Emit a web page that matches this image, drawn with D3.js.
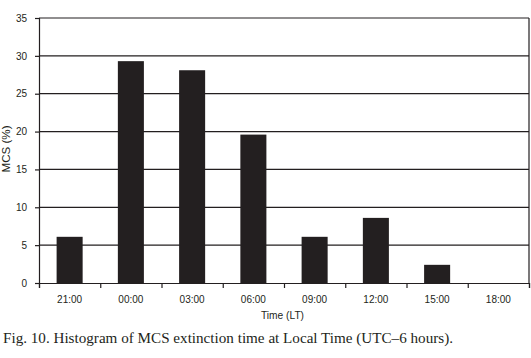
<!DOCTYPE html>
<html>
<head>
<meta charset="utf-8">
<script src="https://cdn.jsdelivr.net/npm/d3@7"></script>
<style>
  body { margin: 0; background: #fff; }
  .axis text { font-family: "Liberation Sans", Arial, sans-serif; font-size: 10px; fill: #231f20; }
  .axis path, .axis line { stroke: #231f20; }
</style>
</head>
<body>
<div id="chart"></div>
<script>
var times = ['21:00', '00:00', '03:00', '06:00', '09:00', '12:00', '15:00', '18:00'];
var mcs = [6.1, 29.3, 28.1, 19.6, 6.1, 8.6, 2.4, 0];
var y_ticks = [0, 5, 10, 15, 20, 25, 30, 35];

var margin = { top: 18, right: 2, bottom: 75, left: 39 },
    width = 531 - margin.left - margin.right,
    height = 358 - margin.top - margin.bottom;

var svg = d3.select('#chart').append('svg')
    .attr('width', 531)
    .attr('height', 358);

var g = svg.append('g')
    .attr('transform', `translate(${margin.left},${margin.top})`);

var x = d3.scaleBand()
    .domain(times)
    .range([0, width])
    .paddingInner(0.575)
    .paddingOuter(0.2875);

var y = d3.scaleLinear()
    .domain([0, 35])
    .range([height, 0]);

// gridlines
g.selectAll('.grid')
    .data(y_ticks.slice(1))
    .enter()
    .append('line')
    .attr('x1', 0)
    .attr('x2', width)
    .attr('y1', d => y(d))
    .attr('y2', d => y(d))
    .attr('stroke', '#231f20')
    .attr('stroke-width', 1.2);

// right border
g.append('line')
    .attr('x1', width).attr('x2', width)
    .attr('y1', 0).attr('y2', height)
    .attr('stroke', '#231f20')
    .attr('stroke-width', 1.2);

g.selectAll('.bar')
    .data(mcs)
    .enter()
    .append('rect')
    .attr('x', (d, i) => x(times[i]))
    .attr('y', d => y(d))
    .attr('width', x.bandwidth())
    .attr('height', d => y(0) - y(d))
    .attr('fill', '#231f20');

// x axis: ticks at category boundaries
var xb = d3.scaleLinear().domain([0, times.length]).range([0, width]);
var xAxis = g.append('g')
    .attr('class', 'axis')
    .attr('transform', `translate(0,${height})`)
    .call(d3.axisBottom(xb).ticks(times.length).tickSize(5).tickFormat(''));
xAxis.select('.domain').attr('stroke-width', 1.2);
xAxis.selectAll('line').attr('stroke-width', 1.2);

g.append('g')
    .attr('class', 'axis')
    .attr('transform', `translate(0,${height})`)
    .selectAll('text')
    .data(times)
    .enter()
    .append('text')
    .attr('x', d => x(d) + x.bandwidth() / 2)
    .attr('y', 20)
    .attr('text-anchor', 'middle')
    .text(d => d);

var yAxis = g.append('g')
    .attr('class', 'axis')
    .call(d3.axisLeft(y).tickValues(y_ticks).tickSize(4).tickPadding(8));
yAxis.select('.domain').attr('stroke-width', 1.2);
yAxis.selectAll('line').attr('stroke-width', 1.2);

svg.append('text')
    .attr('transform', `translate(10,149) rotate(-90)`)
    .attr('text-anchor', 'middle')
    .attr('textLength', 47)
    .attr('lengthAdjust', 'spacingAndGlyphs')
    .style('font-family', '"Liberation Sans", Arial, sans-serif')
    .style('font-size', '10px')
    .attr('fill', '#231f20')
    .text('MCS (%)');

svg.append('text')
    .attr('x', 282.5)
    .attr('y', 319)
    .attr('text-anchor', 'middle')
    .attr('textLength', 43)
    .attr('lengthAdjust', 'spacingAndGlyphs')
    .style('font-family', '"Liberation Sans", Arial, sans-serif')
    .style('font-size', '10px')
    .attr('fill', '#231f20')
    .text('Time (LT)');

svg.append('text')
    .attr('x', 3)
    .attr('y', 343)
    .attr('textLength', 450)
    .attr('lengthAdjust', 'spacingAndGlyphs')
    .style('font-family', '"Liberation Serif", "Times New Roman", serif')
    .style('font-size', '15px')
    .attr('fill', '#231f20')
    .text('Fig. 10. Histogram of MCS extinction time at Local Time (UTC\u20136 hours).');
</script>
</body>
</html>
